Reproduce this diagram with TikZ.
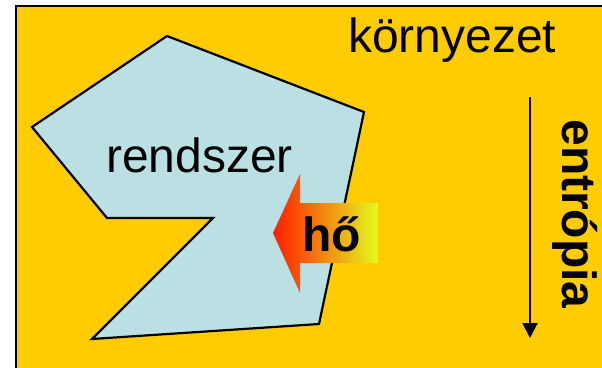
\documentclass[tikz,border=0pt]{standalone}
\usepackage{fontspec}
\setmainfont{Liberation Sans}
\usetikzlibrary{arrows.meta}
\definecolor{envyellow}{RGB}{255,204,0}
\definecolor{sysblue}{RGB}{187,224,227}
\definecolor{heatred}{RGB}{255,30,0}
\definecolor{heatmid}{RGB}{247,160,8}
\definecolor{heatyellow}{RGB}{228,250,30}
\tikzset{
  bigtext/.style={inner sep=0pt, font=\fontsize{48}{56}\selectfont},
  boldtext/.style={bigtext, font=\fontsize{48}{56}\selectfont\bfseries},
}
\begin{document}
\begin{tikzpicture}[x=1pt,y=-1pt]
\useasboundingbox (0,0) rectangle (602,367);
\fill[white] (0,0) rectangle (602,367);
% environment
\filldraw[fill=envyellow, draw=black, line width=1.6pt] (16,6) rectangle (640,400);
% system polygon
\filldraw[fill=sysblue, draw=black, line width=2.2pt, line join=miter]
  (167,36) -- (364,112) -- (319,324) -- (92,339) -- (213,218) -- (107,218) -- (32,127) -- cycle;
% heat arrow
\shade[left color=heatred, middle color=heatmid, right color=heatyellow]
  (273,233) -- (300,174) -- (300,203) -- (378,203) -- (378,263) -- (300,263) -- (300,293) -- cycle;
% labels
\node[bigtext, anchor=base west] (env) at (348,52) {környezet};
\node[bigtext, anchor=base west] (sys) at (106,172) {rendszer};
\node[boldtext, anchor=base west] (heat) at (302,251) {hő};
\node[boldtext, anchor=base, rotate=-90] (entr) at (562,214) {entrópia};
% entropy arrow
\coordinate (etop) at (530,97);
\coordinate (ebot) at (530,338);
\draw[line width=2pt, -{Triangle[width=15pt,length=15pt]}] (etop) -- (ebot);
\end{tikzpicture}
\end{document}
